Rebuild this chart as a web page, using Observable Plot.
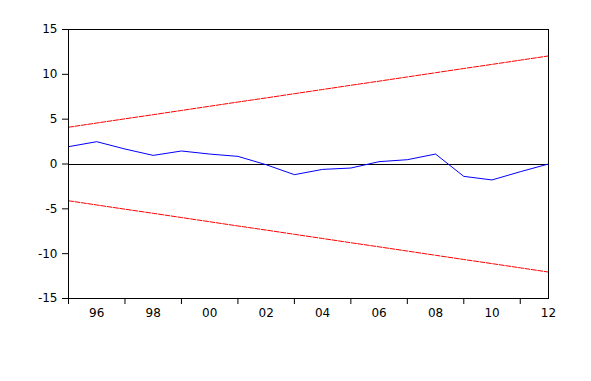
<!DOCTYPE html>
<html>
<head>
<meta charset="utf-8">
<script src="https://cdn.jsdelivr.net/npm/d3@7"></script>
<script src="https://cdn.jsdelivr.net/npm/@observablehq/plot@0.6"></script>
<style>
  html, body { margin: 0; padding: 0; background: #fff; }
</style>
</head>
<body>
<div id="chart"></div>
<script>
const years = [1995, 1996, 1997, 1998, 1999, 2000, 2001, 2002, 2003, 2004, 2005, 2006, 2007, 2008, 2009, 2010, 2011, 2012];
const cusum = [1.93, 2.49, 1.67, 0.96, 1.45, 1.11, 0.85, -0.08, -1.19, -0.60, -0.45, 0.26, 0.48, 1.11, -1.38, -1.78, -0.86, 0.0];
const upper5 = [4.10, 4.57, 5.04, 5.50, 5.97, 6.44, 6.91, 7.37, 7.84, 8.31, 8.78, 9.24, 9.71, 10.18, 10.65, 11.11, 11.58, 12.05];
const lower5 = [-4.10, -4.57, -5.04, -5.50, -5.97, -6.44, -6.91, -7.37, -7.84, -8.31, -8.78, -9.24, -9.71, -10.18, -10.65, -11.11, -11.58, -12.05];
const yTicks = [-15, -10, -5, 0, 5, 10, 15];
const xTickYears = [1995, 1997, 1999, 2001, 2003, 2005, 2007, 2009, 2011];
const xLabelYears = [1996, 1998, 2000, 2002, 2004, 2006, 2008, 2010, 2012];
const xLabels = ["96", "98", "00", "02", "04", "06", "08", "10", "12"];

const rows = years.map((y, i) => ({year: y, cusum: cusum[i], upper: upper5[i], lower: lower5[i]}));

const chart = Plot.plot({
  width: 591,
  height: 381,
  marginLeft: 68,
  marginRight: 43,
  marginTop: 29,
  marginBottom: 83,
  style: {fontFamily: "DejaVu Sans", fontSize: "12px", color: "#000", background: "#fff"},
  x: {domain: [1995, 2012], axis: null},
  y: {domain: [-15, 15], axis: null},
  marks: [
    Plot.ruleY([0], {stroke: "#000", strokeWidth: 1, shapeRendering: "crispEdges"}),
    Plot.line(rows, {x: "year", y: "upper", stroke: "#ff0000", strokeWidth: 1, strokeDasharray: "5,1.5"}),
    Plot.line(rows, {x: "year", y: "lower", stroke: "#ff0000", strokeWidth: 1, strokeDasharray: "5,1.5"}),
    Plot.line(rows, {x: "year", y: "cusum", stroke: "#0000ff", strokeWidth: 1}),
    Plot.frame({stroke: "#000", strokeWidth: 1, shapeRendering: "crispEdges"}),
    Plot.axisY({ticks: yTicks, tickSize: 6, tickPadding: 5, tickFormat: d => String(d), stroke: "#000", fill: "#000", fontSize: 12, label: null}),
    Plot.axisX({ticks: xTickYears, tickSize: 6, tickFormat: () => "", stroke: "#000", label: null}),
    Plot.axisX({ticks: xLabelYears, tickSize: 0, tickPadding: 10, tickFormat: d => xLabels[xLabelYears.indexOf(d)], fill: "#000", fontSize: 12, label: null})
  ]
});
document.getElementById("chart").appendChild(chart);
</script>
</body>
</html>
